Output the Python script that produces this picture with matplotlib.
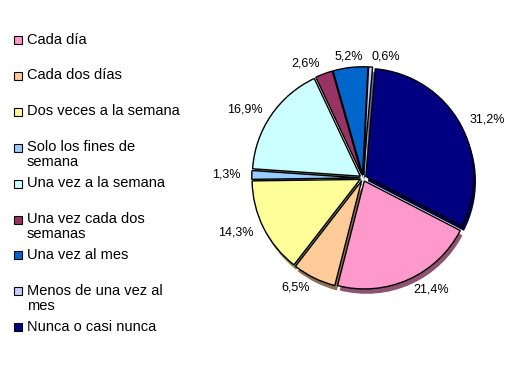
import numpy as np
import matplotlib.pyplot as plt
from matplotlib.patches import Rectangle
from matplotlib.colors import to_rgb

plt.rcParams['font.family'] = ['Liberation Sans', 'DejaVu Sans']

CATEGORIES = ["Cada día", "Cada dos días", "Dos veces a la semana",
              "Solo los fines de\nsemana", "Una vez a la semana",
              "Una vez cada dos\nsemanas", "Una vez al mes",
              "Menos de una vez al\nmes", "Nunca o casi nunca"]
VALUES = [21.4, 6.5, 14.3, 1.3, 16.9, 2.6, 5.2, 0.6, 31.2]
COLORS = ["#FF99CC", "#FFCC99", "#FFFF99", "#99CCFF", "#CCFFFF",
          "#993366", "#0066CC", "#CCCCFF", "#000080"]

W, H = 530, 365
fig = plt.figure(figsize=(W / 100, H / 100), dpi=100)

# pie axes: centre ~ (363, 178) px, radius ~108 px
r_px = 108
span = 1.4
ax_w = 2 * span * r_px
cx, cy = 363, 178
ax = fig.add_axes([(cx - ax_w / 2) / W, (H - cy - ax_w / 2) / H, ax_w / W, ax_w / H])

# Nunca (last slice) starts ~5 deg clockwise from 12 o'clock,
# so the first slice starts right after it
total = sum(VALUES)
start = 90 - (5 + 360 * VALUES[-1] / total)
explode = [0.03] * len(VALUES)

# fake 3d shadow
shadow_cols = [tuple(c * 0.55 for c in to_rgb(col)) for col in COLORS]
ax.pie(VALUES, colors=shadow_cols, startangle=start, counterclock=False,
       explode=explode, center=(0.02, -0.045),
       wedgeprops=dict(edgecolor="none", linewidth=0))

labels = [f"{v:.1f}%".replace(".", ",") for v in VALUES]
wedges, texts = ax.pie(VALUES, colors=COLORS, startangle=start, counterclock=False,
                       explode=explode, labels=labels, labeldistance=1.1,
                       wedgeprops=dict(edgecolor="black", linewidth=1.0),
                       textprops=dict(fontsize=9))
# near the top the small labels sit over their slices
for w, t in zip(wedges, texts):
    mid = np.deg2rad((w.theta1 + w.theta2) / 2)
    if abs(np.cos(mid)) < 0.2 and np.sin(mid) > 0 and t.get_ha() == "right":
        t.set_ha("center")
ax.set_xlim(-span, span)
ax.set_ylim(-span, span)
ax.set_aspect("equal")
ax.axis("off")

# legend drawn by hand to keep Excel-like row spacing
y0, step = 40, 35.9
for i, (lab, col) in enumerate(zip(CATEGORIES, COLORS)):
    y = y0 + i * step
    fig.patches.append(Rectangle((14 / W, 1 - (y + 4) / H), 8 / W, 8 / H,
                                 transform=fig.transFigure, facecolor=col,
                                 edgecolor="black", linewidth=0.8))
    fig.text(27 / W, 1 - (y - 7.5) / H, lab, fontsize=10.5, va="top", ha="left",
             linespacing=1.1)

fig.savefig("out.png", dpi=100)
